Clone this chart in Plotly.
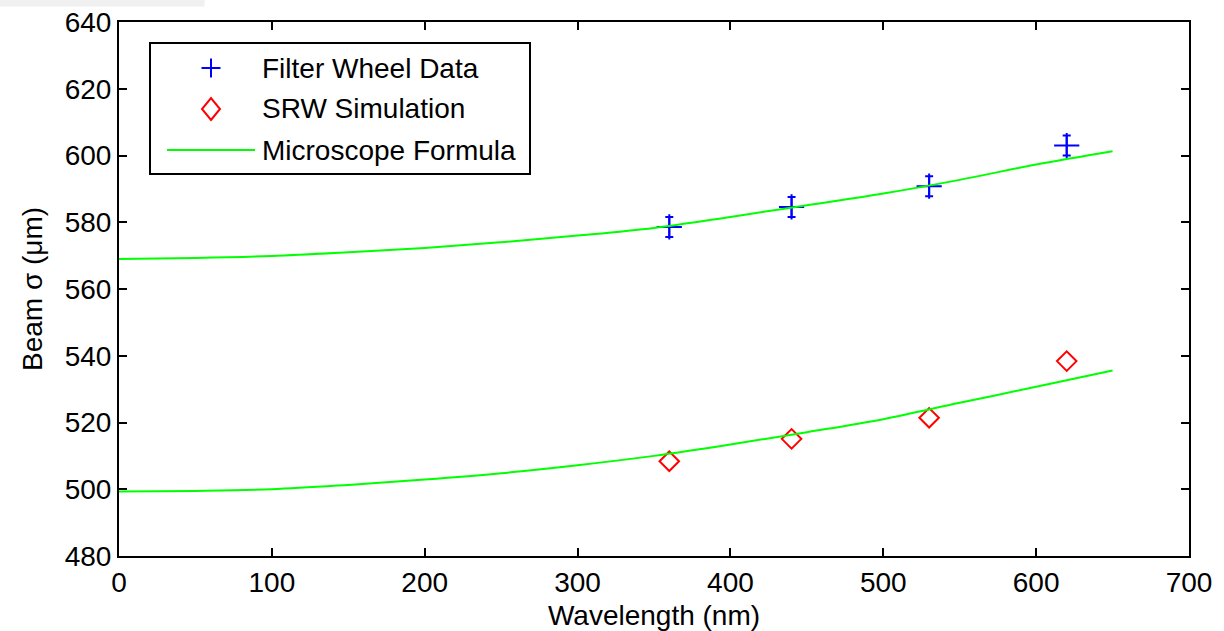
import plotly.graph_objects as go

# Data
wl_points = [360, 440, 530, 620]
filter_wheel = [578.6, 584.6, 590.8, 603.0]
filter_err = [3.0, 3.0, 3.0, 3.0]
srw_sim = [508.4, 515.1, 521.4, 538.4]

wl_curve = [0, 50, 100, 150, 200, 250, 300, 350, 400, 450, 500, 550, 600, 650]
formula_upper = [569.0, 569.3, 569.9, 571.0, 572.3, 574.0, 576.0, 578.3, 581.6, 585.1, 588.6, 592.7, 597.3, 601.3]
formula_lower = [499.3, 499.5, 500.0, 501.3, 502.9, 504.8, 507.2, 510.0, 513.4, 517.1, 521.0, 525.9, 530.7, 535.6]

x_ticks = [0, 100, 200, 300, 400, 500, 600, 700]
y_ticks = [480, 500, 520, 540, 560, 580, 600, 620, 640]

legend_names = ["Filter Wheel Data", "SRW Simulation", "Microscope Formula"]

FONT = "Liberation Sans, Arial, sans-serif"
FS = 28
GREEN = "#00ff00"
BLUE = "#0000ff"
RED = "#ff0000"

# plot-area geometry (pixels) used for placing the hand-built legend box
L, R, T, B = 119, 1189, 22, 556


def px(xp):
    return (xp - L) / (R - L)


def py(yp):
    return (B - yp) / (B - T)


fig = go.Figure()

fig.add_trace(go.Scatter(
    x=wl_points, y=filter_wheel, mode="markers", name=legend_names[0],
    marker=dict(symbol="cross-thin-open", size=18, color=BLUE,
                line=dict(color=BLUE, width=2)),
    error_y=dict(type="data", array=filter_err, visible=True,
                 color=BLUE, thickness=2, width=4),
))
fig.add_trace(go.Scatter(
    x=wl_points, y=srw_sim, mode="markers", name=legend_names[1],
    marker=dict(symbol="diamond-open", size=15, color=RED,
                line=dict(color=RED, width=2)),
))
fig.add_trace(go.Scatter(
    x=wl_curve, y=formula_upper, mode="lines", name=legend_names[2],
    line=dict(color=GREEN, width=2), line_shape="spline",
))
fig.add_trace(go.Scatter(
    x=wl_curve, y=formula_lower, mode="lines", name=legend_names[2],
    line=dict(color=GREEN, width=2), line_shape="spline",
))

axis_common = dict(
    showline=True, linecolor="black", linewidth=2, mirror="ticks",
    ticks="inside", ticklen=8, tickwidth=1.5, tickcolor="black",
    showgrid=False, zeroline=False, automargin=False,
    tickfont=dict(family=FONT, size=FS, color="black"),
)

# legend (MATLAB style) built from shapes + annotations
row_y = [68, 109, 150]
sym_x = 211
shapes = [
    dict(type="rect", xref="paper", yref="paper",
         x0=-0.112, x1=0.08, y0=1.029, y1=1.05,
         fillcolor="#f0f0f0", line=dict(width=0), layer="below"),
    dict(type="rect", xref="paper", yref="paper",
         x0=px(150), x1=px(530), y0=py(174), y1=py(43),
         fillcolor="white", line=dict(color="black", width=2)),
    # plus symbol
    dict(type="path", xref="paper", yref="paper", xsizemode="pixel", ysizemode="pixel",
         xanchor=px(sym_x), yanchor=py(row_y[0]),
         path="M -9.5,0 L 9.5,0 M 0,-9.5 L 0,9.5",
         line=dict(color=BLUE, width=2)),
    # diamond symbol
    dict(type="path", xref="paper", yref="paper", xsizemode="pixel", ysizemode="pixel",
         xanchor=px(sym_x), yanchor=py(row_y[1]),
         path="M 0,-11 L 9,0 L 0,11 L -9,0 Z",
         line=dict(color=RED, width=2)),
    # line symbol
    dict(type="line", xref="paper", yref="paper",
         x0=px(167), x1=px(255), y0=py(row_y[2]), y1=py(row_y[2]),
         line=dict(color=GREEN, width=2)),
]
annotations = [
    dict(xref="paper", yref="paper", x=px(260), y=py(yy), text=name,
         showarrow=False, xanchor="left", yanchor="middle",
         font=dict(family=FONT, size=FS, color="black"))
    for name, yy in zip(legend_names, row_y)
]

fig.update_layout(
    width=1224, height=631,
    margin=dict(l=L, r=1224 - R, t=T, b=631 - B),
    paper_bgcolor="white", plot_bgcolor="white",
    font=dict(family=FONT, size=FS, color="black"),
    showlegend=False,
    xaxis=dict(
        range=[0, 700], tickvals=x_ticks,
        title=dict(text="Wavelength (nm)", standoff=10,
                   font=dict(family=FONT, size=FS, color="black")),
        **axis_common,
    ),
    yaxis=dict(
        range=[480, 640], tickvals=y_ticks,
        title=dict(text="Beam σ (μm)", standoff=14,
                   font=dict(family=FONT, size=FS, color="black")),
        **axis_common,
    ),
    shapes=shapes,
    annotations=annotations,
)

fig.write_html("out.html")
